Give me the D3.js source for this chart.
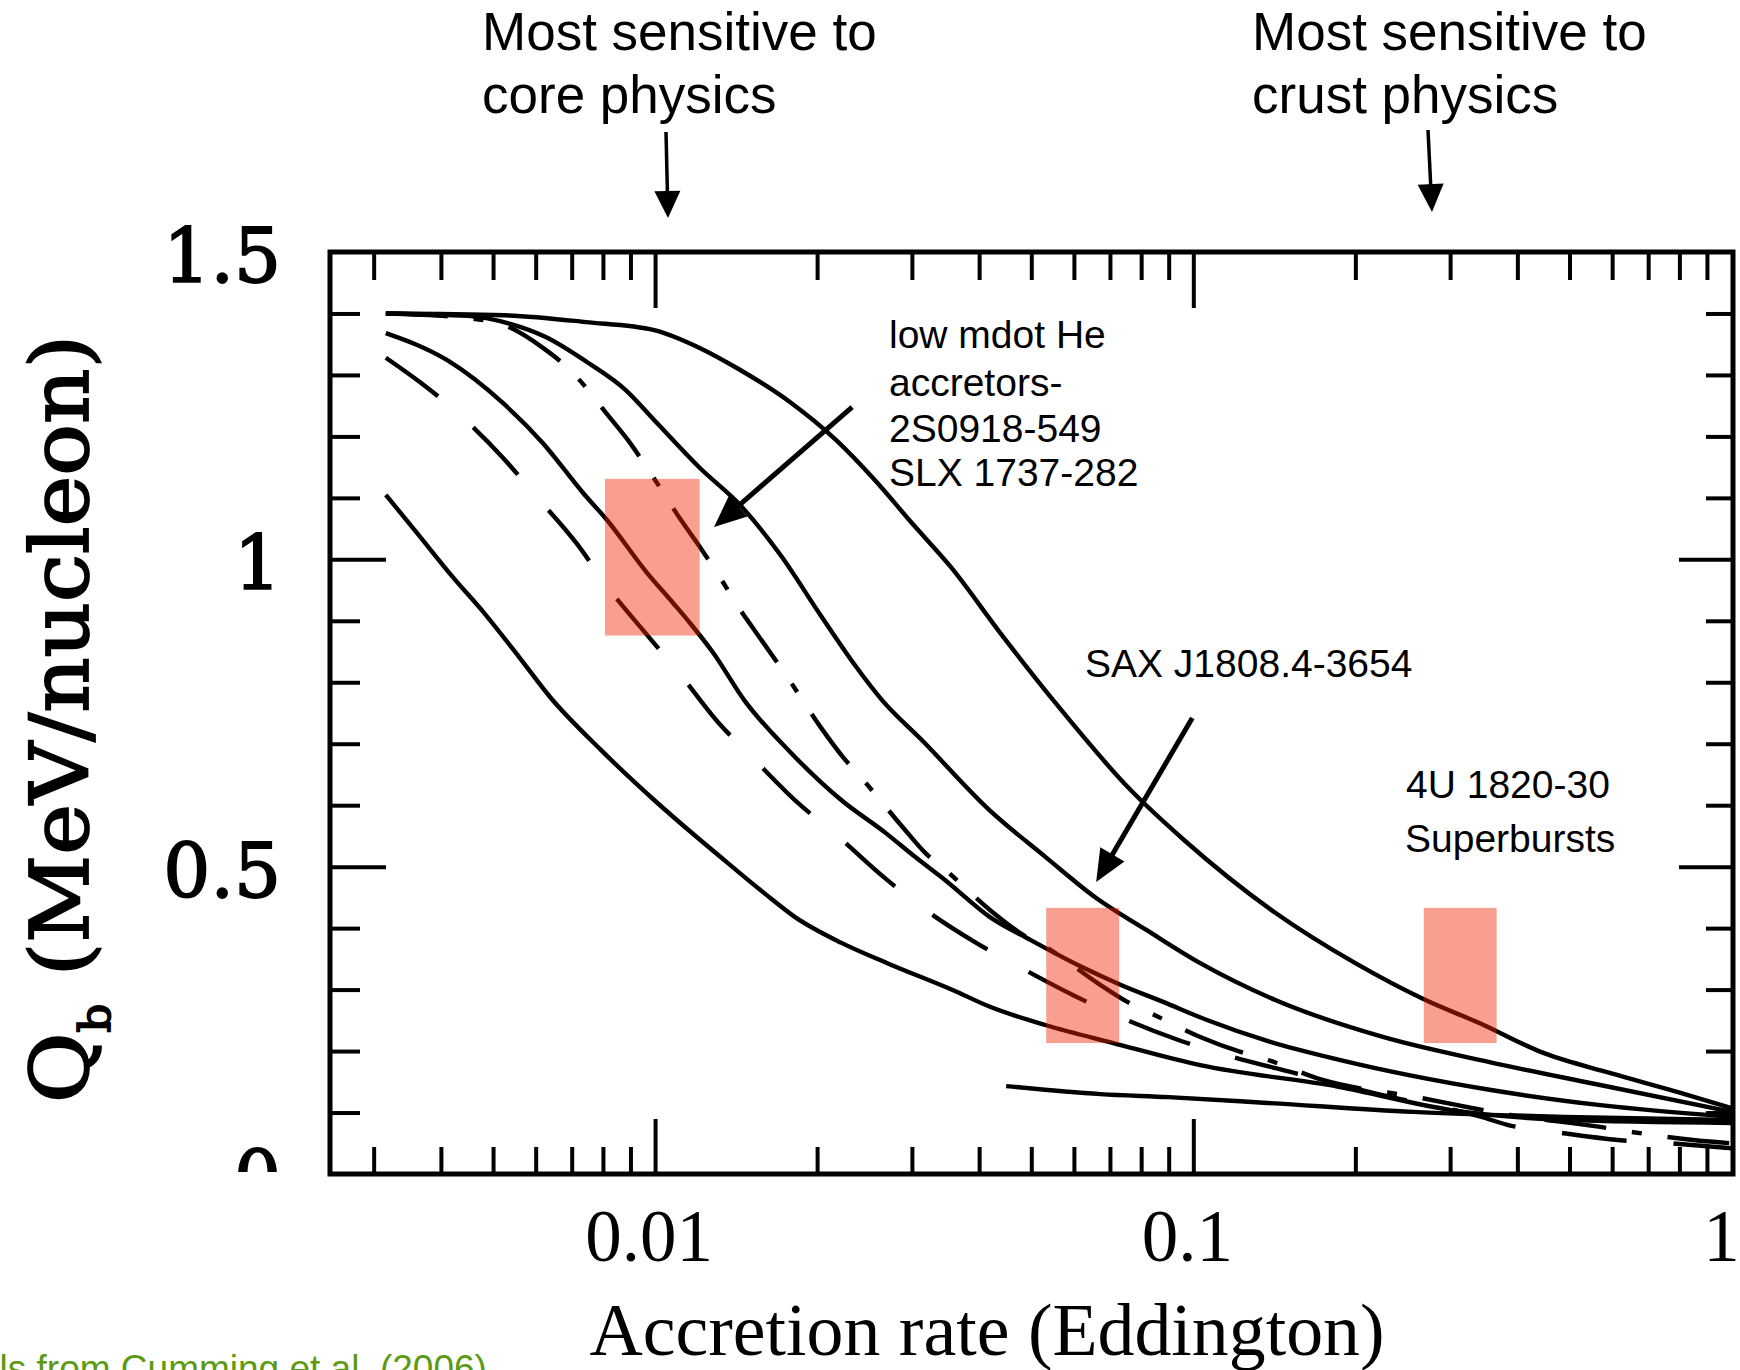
<!DOCTYPE html>
<html><head><meta charset="utf-8">
<script src="https://cdn.jsdelivr.net/npm/d3@7"></script>
<style>html,body{margin:0;padding:0;background:#fff;} svg{display:block;}</style>
</head><body>
<svg id="chart" width="1740" height="1370"></svg>
<script>
// ---------------- data (accretion rate [Eddington], Q_b [MeV/nucleon]) ----------------
const solidA = [[0.00316,1.400],[0.00524,1.397],[0.00744,1.386],[0.00996,1.373],[0.0121,1.344],[0.0144,1.308],[0.0178,1.256],[0.0217,1.194],[0.0256,1.129],[0.0300,1.059],[0.0354,0.988],[0.0438,0.880],[0.0549,0.771],[0.0764,0.625],[0.0962,0.543],[0.142,0.425],[0.200,0.343],[0.270,0.283],[0.339,0.246],[0.447,0.197],[0.596,0.164],[0.804,0.132],[1.0,0.107]];
const solidB = [[0.00316,1.400],[0.00449,1.396],[0.00538,1.383],[0.00625,1.362],[0.00747,1.321],[0.00883,1.275],[0.0100,1.225],[0.0121,1.149],[0.0144,1.088],[0.0171,1.007],[0.0203,0.909],[0.0235,0.828],[0.0264,0.771],[0.0313,0.706],[0.0418,0.592],[0.0531,0.516],[0.0660,0.449],[0.0818,0.397],[0.103,0.343],[0.142,0.283],[0.225,0.223],[0.355,0.182],[0.561,0.146],[1.0,0.101]];
const dashDotC = [[0.00316,1.400],[0.00430,1.394],[0.00524,1.381],[0.00619,1.344],[0.00695,1.308],[0.00825,1.230],[0.00899,1.189],[0.00966,1.149],[0.01123,1.061],[0.01207,1.022],[0.01304,0.978],[0.01439,0.918],[0.01515,0.890],[0.01759,0.809],[0.0203,0.727],[0.0224,0.677],[0.0242,0.644],[0.0288,0.565],[0.0318,0.522],[0.0346,0.495],[0.0421,0.428],[0.0477,0.392],[0.0535,0.368],[0.0663,0.311],[0.0754,0.280],[0.0832,0.262],[0.103,0.223],[0.122,0.199],[0.137,0.186],[0.174,0.153],[0.264,0.124],[0.388,0.096],[0.566,0.077],[0.657,0.068],[0.857,0.055],[1.0,0.050]];
const solidD = [[0.00316,1.368],[0.00411,1.324],[0.00522,1.254],[0.00619,1.189],[0.00735,1.108],[0.00814,1.064],[0.00966,0.978],[0.0108,0.929],[0.01162,0.896],[0.01282,0.848],[0.01464,0.771],[0.0178,0.687],[0.0222,0.608],[0.0268,0.555],[0.0304,0.516],[0.0346,0.478],[0.0419,0.418],[0.0498,0.381],[0.0617,0.338],[0.0732,0.308],[0.0879,0.280],[0.1057,0.251],[0.139,0.215],[0.186,0.186],[0.355,0.137],[0.571,0.112],[1.0,0.093]];
const dashedE = [[0.00316,1.328],[0.00366,1.288],[0.00430,1.238],[0.00522,1.165],[0.00598,1.105],[0.00719,1.023],[0.00811,0.958],[0.00966,0.877],[0.01104,0.817],[0.01309,0.735],[0.01515,0.678],[0.01836,0.605],[0.0217,0.552],[0.0266,0.483],[0.0313,0.434],[0.0395,0.376],[0.0475,0.337],[0.0601,0.290],[0.0732,0.255],[0.0938,0.218],[0.1147,0.194],[0.1515,0.166],[0.2226,0.129],[0.343,0.093],[0.383,0.080],[0.473,0.068],[0.622,0.055],[0.767,0.050],[1.0,0.042]];
const solidF = [[0.00316,1.105],[0.00361,1.043],[0.00421,0.971],[0.00481,0.913],[0.00559,0.841],[0.00638,0.776],[0.00793,0.690],[0.01009,0.604],[0.01152,0.560],[0.01343,0.511],[0.01595,0.457],[0.0182,0.418],[0.0222,0.376],[0.0270,0.343],[0.0358,0.299],[0.0419,0.272],[0.0533,0.242],[0.0710,0.213],[0.1030,0.177],[0.186,0.142],[0.302,0.104],[0.489,0.088],[1.0,0.083]];
const solidG = [[0.0449,0.143],[0.0672,0.130],[0.0899,0.125],[0.135,0.116],[0.256,0.101],[0.489,0.093],[1.0,0.088]];

// observational boxes: [xmin, xmax, ymin, ymax]
const boxHeLow = [0.00807, 0.0121, 0.876, 1.131];
const boxSAX   = [0.0533, 0.0728, 0.213, 0.433];
const box4U    = [0.268, 0.366, 0.213, 0.433];

const xMajorTicks = [0.01, 0.1, 1];
const xTickLabels = ["0.01", "0.1", "1"];
const yMajorTicks = [0, 0.5, 1, 1.5];
const yTickLabels = ["0", "0.5", "1", "1.5"];

// arrows inside the plot, in data units: [from, to]
const arrowHe  = [[0.02323, 1.2478], [0.01287, 1.0526]];
const arrowSAX = [[0.09956, 0.7418], [0.0660, 0.4750]];

// ---------------- drawing ----------------
const svg = d3.select("#chart");
const L = 330, R = 1733, T = 252, B = 1174;
const x = d3.scaleLog().domain([0.002489, 1.0062]).range([L, R]);
const y = d3.scaleLinear().domain([0, 1.5]).range([B, T]);

const defs = svg.append("defs");
defs.append("clipPath").attr("id", "plotClip").append("rect")
  .attr("x", L).attr("y", T).attr("width", R - L).attr("height", B - T);
defs.append("clipPath").attr("id", "ylabClip").append("rect")
  .attr("x", 0).attr("y", 0).attr("width", L).attr("height", B - 2);

const isPow10 = v => Math.abs(Math.log10(v) - Math.round(Math.log10(v))) < 1e-6;
const minorX = x.ticks().filter(v => !isPow10(v));
const majorX = xMajorTicks.filter(v => v < 1);
const minorY = y.ticks(15).filter(v => Math.abs(v * 2 - Math.round(v * 2)) > 1e-6);
const majorY = yMajorTicks.filter(v => v > 0 && v < 1.5);

function tickAxis(axis, tr) {
  const g = svg.append("g").attr("transform", tr).call(axis.tickFormat("").tickSizeOuter(0));
  g.select(".domain").remove();
  g.selectAll(".tick line").attr("stroke", "#000").attr("stroke-width", 4);
  return g;
}
tickAxis(d3.axisBottom(x).tickValues(minorX).tickSizeInner(-27), `translate(0,${B})`);
tickAxis(d3.axisBottom(x).tickValues(majorX).tickSizeInner(-55), `translate(0,${B})`);
tickAxis(d3.axisTop(x).tickValues(minorX).tickSizeInner(-28), `translate(0,${T})`);
tickAxis(d3.axisTop(x).tickValues(majorX).tickSizeInner(-56), `translate(0,${T})`);
tickAxis(d3.axisLeft(y).tickValues(minorY).tickSizeInner(-30), `translate(${L},0)`);
tickAxis(d3.axisLeft(y).tickValues(majorY).tickSizeInner(-56), `translate(${L},0)`);
tickAxis(d3.axisRight(y).tickValues(minorY).tickSizeInner(-27), `translate(${R},0)`);
tickAxis(d3.axisRight(y).tickValues(majorY).tickSizeInner(-54), `translate(${R},0)`);

// curves
const line = d3.line().x(d => x(d[0])).y(d => y(d[1])).curve(d3.curveMonotoneX);
const curves = [
  {data: solidA, dash: null},
  {data: solidB, dash: null},
  {data: dashDotC, dash: "62,26,10,26"},
  {data: solidD, dash: null},
  {data: dashedE, dash: "65,47"},
  {data: solidF, dash: null},
  {data: solidG, dash: null}
];
const cg = svg.append("g").attr("clip-path", "url(#plotClip)");
cg.selectAll("path.curve").data(curves).join("path")
  .attr("class", "curve")
  .attr("d", d => line(d.data))
  .attr("fill", "none").attr("stroke", "#000").attr("stroke-width", 4.4)
  .attr("stroke-linejoin", "round")
  .attr("stroke-dasharray", d => d.dash);

// frame
svg.append("rect").attr("x", L).attr("y", T).attr("width", R - L).attr("height", B - T)
  .attr("fill", "none").attr("stroke", "#000").attr("stroke-width", 5);

// boxes
svg.selectAll("rect.box").data([boxHeLow, boxSAX, box4U]).join("rect")
  .attr("class", "box")
  .attr("x", d => x(d[0])).attr("width", d => x(d[1]) - x(d[0]))
  .attr("y", d => y(d[3])).attr("height", d => y(d[2]) - y(d[3]))
  .attr("fill", "#f22400").attr("fill-opacity", 0.44);

// tick labels
svg.selectAll("text.xl").data(xMajorTicks).join("text").attr("class", "xl")
  .attr("x", (d, i) => x(d) - (i === xMajorTicks.length - 1 ? 10 : 6)).attr("y", 1261)
  .attr("text-anchor", "middle")
  .attr("font-family", "'Liberation Serif', 'Times New Roman', serif").attr("font-size", 73)
  .text((d, i) => xTickLabels[i]);
svg.append("g").attr("clip-path", "url(#ylabClip)")
  .selectAll("text.yl").data(yMajorTicks).join("text").attr("class", "yl")
  .attr("x", 281).attr("y", d => y(d) + 30)
  .attr("text-anchor", "end")
  .attr("font-family", "'DejaVu Serif', serif").attr("font-size", 74)
  .attr("stroke", "#000").attr("stroke-width", 1.8)
  .text((d, i) => yTickLabels[i]);

// axis titles
svg.append("text").attr("x", 987).attr("y", 1355).attr("text-anchor", "middle")
  .attr("font-family", "'Liberation Serif', 'Times New Roman', serif").attr("font-size", 73)
  .attr("textLength", 795).attr("lengthAdjust", "spacingAndGlyphs")
  .text("Accretion rate (Eddington)");
const yt = svg.append("text").attr("transform", "translate(88,719) rotate(-90)")
  .attr("text-anchor", "middle")
  .attr("font-family", "'DejaVu Serif', serif").attr("font-size", 80)
  .attr("stroke", "#000").attr("stroke-width", 1.8)
  .attr("textLength", 768).attr("lengthAdjust", "spacingAndGlyphs");
yt.append("tspan").text("Q");
yt.append("tspan").attr("font-size", 42).attr("dy", 22).text("b");
yt.append("tspan").attr("dy", -22).text(" (MeV/nucleon)");

// top annotations
const sans = "'Liberation Sans', Arial, sans-serif";
function txt(s, px, py, fs, fill) {
  svg.append("text").attr("x", px).attr("y", py).attr("font-family", sans)
    .attr("font-size", fs).attr("fill", fill || "#000").text(s);
}
txt("Most sensitive to", 482, 50, 53);
txt("core physics", 482, 113, 53);
txt("Most sensitive to", 1252, 50, 53);
txt("crust physics", 1252, 113, 53);

function arrowPx(x1, y1, x2, y2, w, hl, hw) {
  const dx = x2 - x1, dy = y2 - y1, len = Math.hypot(dx, dy);
  const ux = dx / len, uy = dy / len;
  const bx = x2 - ux * hl, by = y2 - uy * hl;
  svg.append("line").attr("x1", x1).attr("y1", y1).attr("x2", bx + ux * 2).attr("y2", by + uy * 2)
    .attr("stroke", "#000").attr("stroke-width", w);
  svg.append("polygon")
    .attr("points", [[x2, y2], [bx - uy * hw, by + ux * hw], [bx + uy * hw, by - ux * hw]].map(p => p.join(",")).join(" "))
    .attr("fill", "#000");
}
arrowPx(666, 132, 668, 218, 3.5, 27, 13);
arrowPx(1428, 130, 1432, 212, 3.5, 28, 13);
[arrowHe, arrowSAX].forEach(a => arrowPx(x(a[0][0]), y(a[0][1]), x(a[1][0]), y(a[1][1]), 5, 32, 14));

// in-plot annotations
txt("low mdot He", 889, 348, 39);
txt("accretors-", 889, 396, 39);
txt("2S0918-549", 889, 442, 39);
txt("SLX 1737-282", 889, 486, 39);
txt("SAX J1808.4-3654", 1085, 677, 39);
txt("4U 1820-30", 1406, 798, 39);
txt("Superbursts", 1405, 852, 39);

// credit line (partly off-canvas, as in the source)
txt("Models from Cumming et al. (2006)", -93, 1381, 37, "#5c9a12");
</script>
</body></html>
